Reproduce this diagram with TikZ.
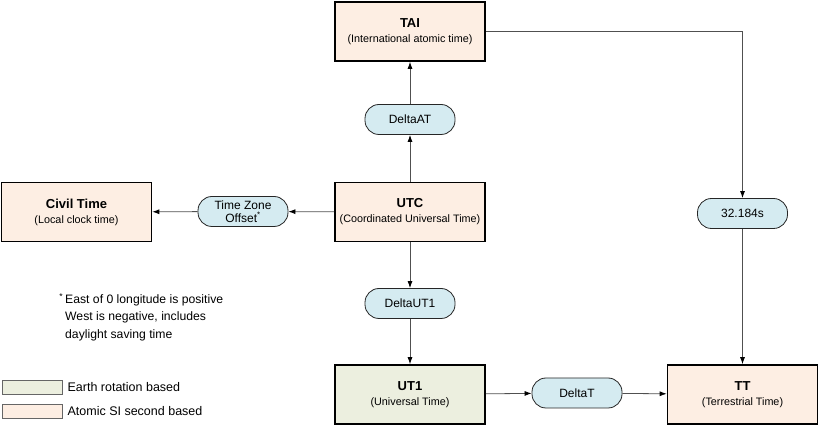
\documentclass[tikz,border=0pt]{standalone}
\usepackage{fontspec}
\setmainfont{Liberation Sans}
\usetikzlibrary{arrows.meta,positioning}
\definecolor{atomic}{HTML}{FDEEE3}
\definecolor{earth}{HTML}{ECEFDF}
\definecolor{delta}{HTML}{D5EBF1}
\definecolor{wire}{HTML}{505050}
\newcommand{\clockname}[2]{{\fontsize{13}{14}\selectfont\bfseries #1}\\[3pt]{\fontsize{10.8}{12}\selectfont #2}}

\begin{document}
\begin{tikzpicture}[x=1pt,y=-1pt,
	timebox/.style={draw=black, line width=1.6pt, fill=atomic, minimum width=150pt, minimum height=59pt, align=center, inner sep=0pt},
	deltabox/.style={draw=black!85, line width=0.8pt, fill=delta, rounded corners=14pt, minimum width=90pt, minimum height=30pt, align=center, inner sep=0pt, font=\fontsize{12}{13}\selectfont},
	link/.style={draw=wire, line width=0.8pt, -{Latex[length=7pt,width=5pt,black]}},
	legendkey/.style={draw=black!60, line width=0.8pt, minimum width=60pt, minimum height=14pt, inner sep=0pt},
	legendtext/.style={right=5pt of #1, inner sep=0pt, font=\fontsize{12.5}{13}\selectfont}]
	\useasboundingbox (0,0) rectangle (820,427);
	\node[timebox] (tai) at (410,31.5) {\clockname{TAI}{(International atomic time)}};
	\node[timebox] (utc) at (410,212) {\clockname{UTC}{(Coordinated Universal Time)}};
	\node[timebox] (civil) at (76.5,212) {\clockname{Civil Time}{(Local clock time)}};
	\node[timebox, fill=earth] (ut1) at (410,394.5) {\clockname{UT1}{(Universal Time)}};
	\node[timebox] (tt) at (742.5,394.5) {\clockname{TT}{(Terrestrial Time)}};
	\node[deltabox] (dat) at (410,119.5) {DeltaAT};
	\node[deltabox] (tzo) at (243,211.5) {Time Zone\\Offset\textsuperscript{*}};
	\node[deltabox] (dut1) at (410,303.5) {DeltaUT1};
	\node[deltabox] (dt) at (577,393) {DeltaT};
	\node[deltabox] (off) at (742.5,213.5) {32.184s};
	\draw[link] (utc) -- (dat);
	\draw[link] (dat) -- (tai);
	\draw[link] (utc) -- (tzo);
	\draw[link] (tzo) -- (civil);
	\draw[link] (utc) -- (dut1);
	\draw[link] (dut1) -- (ut1);
	\draw[link] (ut1) -- (dt);
	\draw[link] (dt) -- (tt);
	\draw[link] (tai) -| (off);
	\draw[link] (off) -- (tt);
	\node[anchor=north west, align=left, inner sep=0pt, font=\fontsize{12.2}{17.5}\selectfont] (note) at (65,293)
		{\llap{\textsuperscript{*}\,}East of 0 longitude is positive\\West is negative, includes\\daylight saving time};
	\node[legendkey, fill=earth] (earthkey) at (32,387) {};
	\node[legendkey, fill=atomic] (atomickey) at (32,411.5) {};
	\node[legendtext=earthkey] (earthlabel) {Earth rotation based};
	\node[legendtext=atomickey] (atomiclabel) {Atomic SI second based};
\end{tikzpicture}
\end{document}
